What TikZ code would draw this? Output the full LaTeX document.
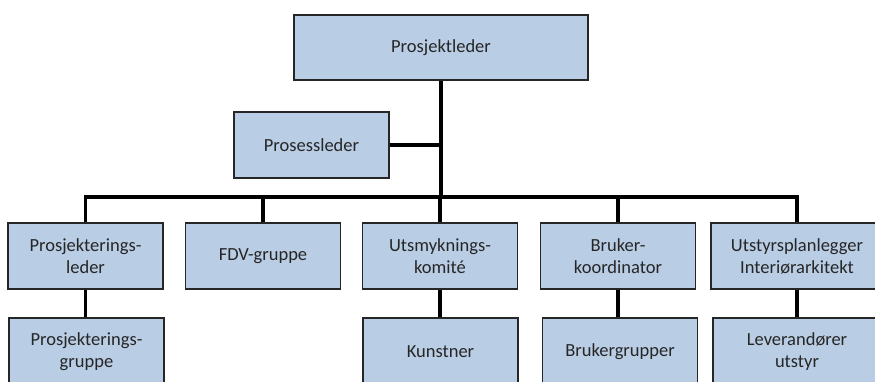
\documentclass[tikz,border=0pt]{standalone}
\usepackage{fontspec}
\setmainfont{Carlito}
\begin{document}
\begin{tikzpicture}[x=1pt,y=-1pt,
  orgbox/.style={draw=black!85, line width=1.4pt, fill=boxblue,
    minimum width=155pt, minimum height=66pt, inner sep=0pt, align=center,
    text=black!85, font=\fontsize{18.5}{22}\selectfont},
  link/.style={line width=3.2pt, black}]
\definecolor{boxblue}{HTML}{B9CDE5}
\clip (0,0) rectangle (875,381);
\fill[white] (0,0) rectangle (875,381);
% Top level
\node[orgbox, minimum width=294pt, minimum height=65pt] (pl) at (441,47.5) {Prosjektleder};
\node[orgbox] (ps) at (311.5,145) {Prosessleder};
% Second row
\node[orgbox] (a) at (85.5,256) {Prosjekterings-\\leder};
\node[orgbox] (b) at (263,256) {FDV-gruppe};
\node[orgbox] (c) at (440,256) {Utsmyknings-\\komité};
\node[orgbox] (d) at (618,256) {Bruker-\\koordinator};
\node[orgbox, minimum width=172pt] (e) at (797,256) {Utstyrsplanlegger\\Interiørarkitekt};
% Third row
\node[orgbox, minimum height=68pt] (a2) at (86.5,352) {Prosjekterings-\\gruppe};
\node[orgbox, minimum height=68pt] (c2) at (440.5,352) {Kunstner};
\node[orgbox, minimum height=68pt] (d2) at (620,352) {Brukergrupper};
\node[orgbox, minimum height=68pt, minimum width=168pt] (e2) at (797,352) {Leverandører\\utstyr};
% Connectors
\coordinate (bus) at (0,197);
\draw[link] (pl.south) -- (pl.south |- bus);
\draw[link] (ps.east) -- (ps.east -| pl.south);
\draw[link] (a.north) -- (a.north |- bus) -- (e.north |- bus) -- (e.north);
\draw[link] (b.north) -- (b.north |- bus);
\draw[link] (c.north) -- (c.north |- bus);
\draw[link] (d.north) -- (d.north |- bus);
\draw[link] (a.south) -- (a.south |- a2.north);
\draw[link] (c.south) -- (c.south |- c2.north);
\draw[link] (d.south) -- (d.south |- d2.north);
\draw[link] (e.south) -- (e.south |- e2.north);
\end{tikzpicture}
\end{document}
